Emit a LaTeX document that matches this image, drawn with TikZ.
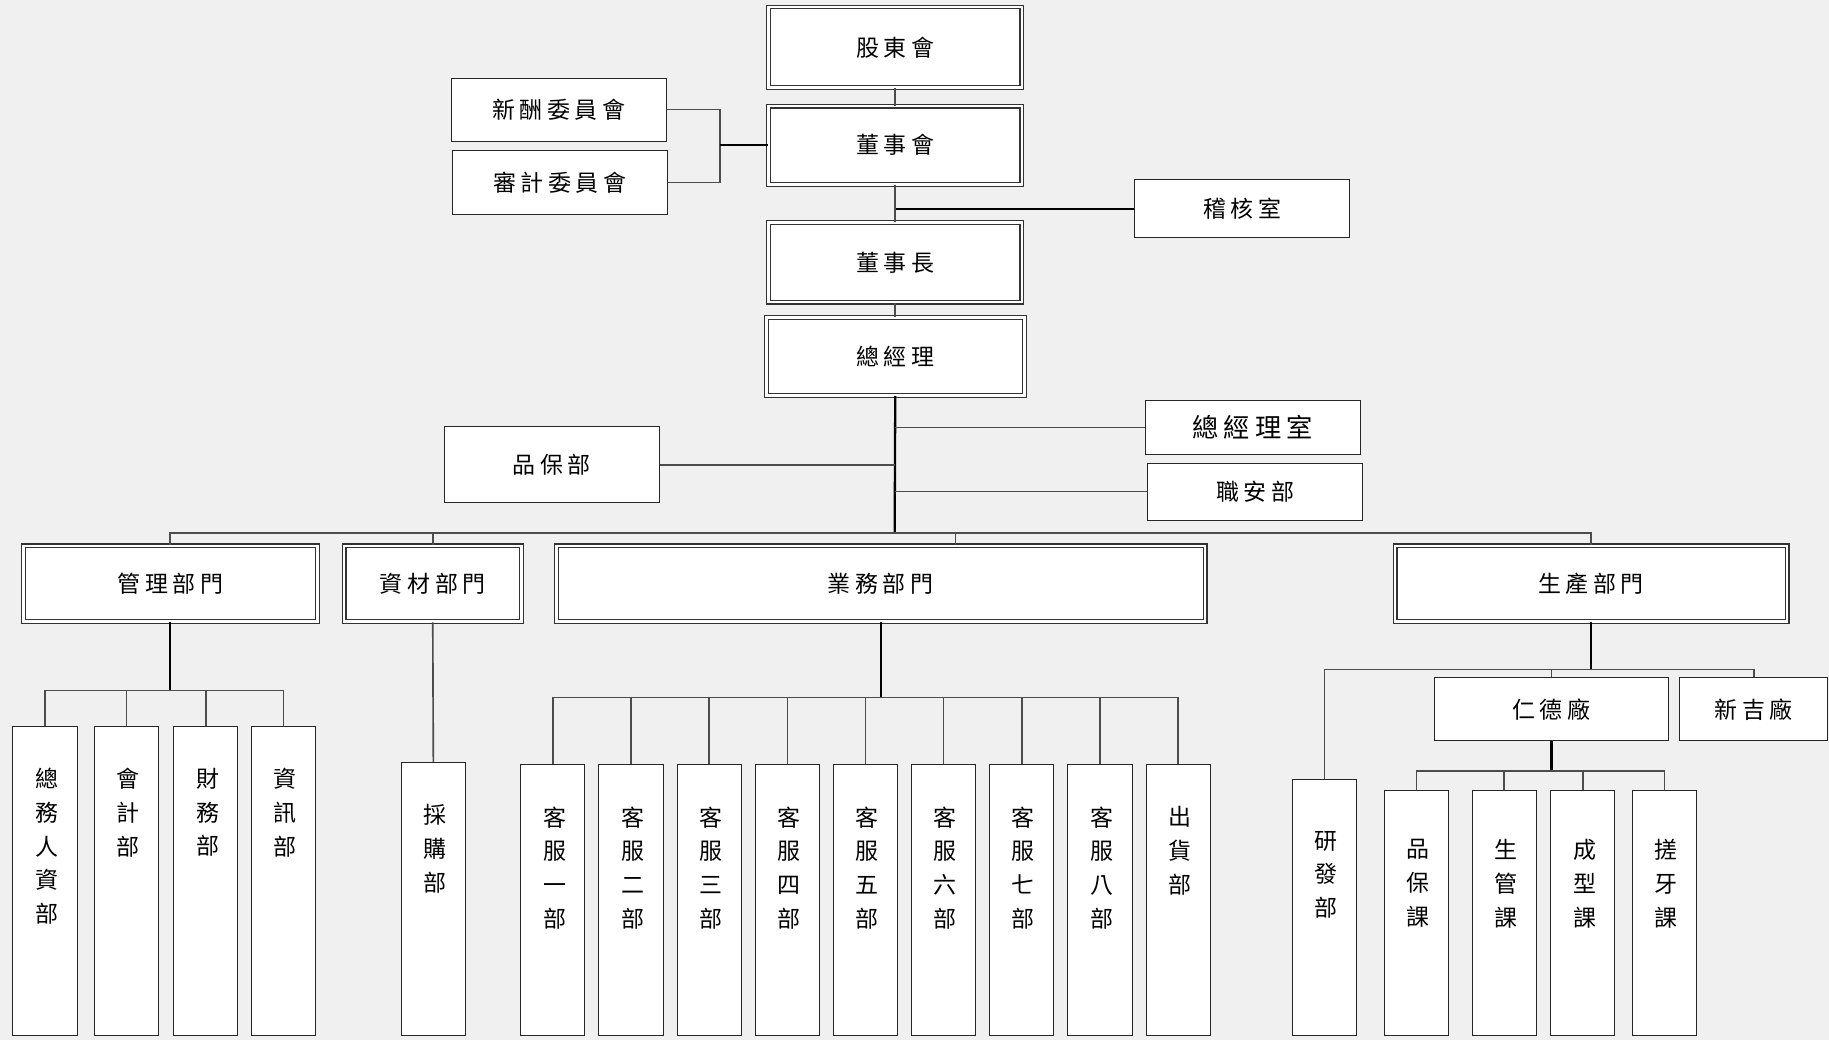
\documentclass[tikz,border=0pt]{standalone}
\usepackage{fontspec}
\setmainfont{Noto Sans CJK TC}
\newfontfamily\wide[LetterSpace=20]{Noto Sans CJK TC}
\usetikzlibrary{positioning}
\definecolor{bg}{HTML}{F0F0F0}
\newcommand{\vtxt}[2]{\parbox[t][#1][t]{1.2em}{\centering\fontsize{14pt}{20.6pt}\selectfont #2}}

\begin{document}
\begin{tikzpicture}[
      x=0.025cm, y=-0.025cm,
      box/.style={draw=black!85, fill=white, line width=0.6pt, minimum width=4.6cm, minimum height=1.35cm, align=center, font=\wide\fontsize{14pt}{16pt}\selectfont},
      dbox/.style={box, draw=black!80, line width=0.7pt, double=white, double distance=1.6pt},
      vbox/.style={draw=black!85, fill=white, line width=0.6pt, minimum width=1.375cm, anchor=south, inner ysep=0.9cm, inner xsep=0pt},
      link/.style={draw=black!70, line width=1pt},
      trunk/.style={draw=black, line width=1.4pt}
    ]
    \useasboundingbox (0,0) rectangle (1568,892);
    \fill[bg] (0,0) rectangle (1568,892);

    \node[dbox, minimum width=5.425cm, minimum height=1.725cm] (gdh) at (767.5,40.5) {股東會};
    \node[dbox, minimum width=5.425cm, minimum height=1.675cm] (dsh) at (767.5,124.5) {董事會};
    \node[box] (xc) at (479,94) {新酬委員會};
    \node[box, minimum height=1.375cm] (sj) at (480,156.5) {審計委員會};
    \node[box, minimum height=1.25cm] (jh) at (1065,179) {稽核室};
    \node[dbox, minimum width=5.425cm, minimum height=1.7cm] (dsz) at (767.5,225) {董事長};
    \node[dbox, minimum width=5.525cm, minimum height=1.675cm] (zjl) at (767.5,305.5) {總經理};
    \node[box, minimum height=1.175cm, font=\wide\fontsize{16pt}{18pt}\selectfont] (zjls) at (1074,366.5) {總經理室};
    \node[box, minimum height=1.225cm] (za) at (1076,421.5) {職安部};
    \node[box, minimum height=1.625cm] (pb) at (473,398.5) {品保部};

    \node[dbox, minimum width=6.3cm, minimum height=1.625cm] (gl) at (146,500.5) {管理部門};
    \node[dbox, minimum width=3.8cm, minimum height=1.625cm] (zc) at (371,500.5) {資材部門};
    \node[dbox, minimum width=13.9cm, minimum height=1.625cm] (yw) at (755,500.5) {業務部門};
    \node[dbox, minimum width=8.4cm, minimum height=1.625cm] (sc) at (1364,500.5) {生產部門};

    \node[vbox] (zw) at (38.5,888) {\vtxt{4.825cm}{總\\務\\人\\資\\部}};
    \node[vbox] (kj) at (108.5,888) {\vtxt{4.825cm}{會\\計\\部}};
    \node[vbox] (cw) at (176.5,888) {\vtxt{4.825cm}{財\\務\\部}};
    \node[vbox] (zx) at (243,888) {\vtxt{4.825cm}{資\\訊\\部}};
    \node[vbox] (cg) at (371.5,888) {\vtxt{4.05cm}{採\\購\\部}};
    \foreach \i/\cn in {1/一,2/二,3/三,4/四,5/五,6/六,7/七,8/八}
      \node[vbox] (kf\i) at ({474+67*(\i-1)},888) {\vtxt{4cm}{客\\服\\\cn\\部}};
    \node[vbox] (chb) at (1010,888) {\vtxt{4cm}{出\\貨\\部}};

    \node[vbox, inner ysep=1.1cm] (yf) at (1135.5,888) {\vtxt{3.275cm}{研\\發\\部}};
    \node[box, minimum width=5cm] (rd) at (1330,608) {仁德廠};
    \node[box, minimum width=3.175cm] (xj) at (1503.5,608) {新吉廠};
    \node[vbox, inner ysep=1.05cm] (pk) at (1214.5,888) {\vtxt{3.15cm}{品\\保\\課}};
    \node[vbox, inner ysep=1.05cm] (sg) at (1289.5,888) {\vtxt{3.15cm}{生\\管\\課}};
    \node[vbox, inner ysep=1.05cm] (cx) at (1357,888) {\vtxt{3.15cm}{成\\型\\課}};
    \node[vbox, inner ysep=1.05cm] (cy) at (1427,888) {\vtxt{3.15cm}{搓\\牙\\課}};

    \coordinate (cm) at (617,124.5);
    \draw[link] (xc.east) -| (cm) |- (sj.east);
    \draw[trunk] (cm) -- (dsh.west);
    \draw[link] (gdh) -- (dsh);
    \draw[trunk] (dsh.south) |- (jh.west);
    \draw[link] (dsh.south) -- (dsz.north);
    \draw[link] (dsz) -- (zjl);

    \coordinate (bus) at (767,457);
    \draw[trunk] (zjl.south) -- (bus);
    \draw[link] (zjls.west) -- (zjls.west -| bus);
    \draw[link] (za.west) -- (za.west -| bus);
    \draw[link] (pb.east) -- (pb.east -| bus);
    \draw[link] (gl.north) |- (bus) -| (sc.north);
    \draw[link] (zc.north) -- (zc.north |- bus);
    \coordinate (ywtap) at (819,457);
    \draw[link] (ywtap) -- (ywtap |- yw.north);

    \coordinate (gbus) at (146,592);
    \draw[trunk] (gl.south) -- (gbus);
    \draw[link] (zw.north) |- (gbus) -| (zx.north);
    \draw[link] (kj.north) -- (kj.north |- gbus);
    \draw[link] (cw.north) -- (cw.north |- gbus);

    \draw[link] (zc.south) -- (cg.north);

    \coordinate (ybus) at (755,598);
    \draw[trunk] (yw.south) -- (ybus);
    \draw[link] (kf1.north) |- (ybus) -| (chb.north);
    \foreach \i in {2,...,8}
      \draw[link] (kf\i.north) -- (kf\i.north |- ybus);

    \coordinate (sbus) at (1364,574);
    \draw[trunk] (sc.south) -- (sbus);
    \draw[link] (yf.north) |- (sbus) -| (xj.north);
    \draw[link] (rd.north) -- (rd.north |- sbus);

    \coordinate (rbus) at (1330,661);
    \draw[trunk] (rd.south) -- (rbus);
    \draw[link] (pk.north) |- (rbus) -| (cy.north);
    \draw[link] (sg.north) -- (sg.north |- rbus);
    \draw[link] (cx.north) -- (cx.north |- rbus);
  \end{tikzpicture}
\end{document}
